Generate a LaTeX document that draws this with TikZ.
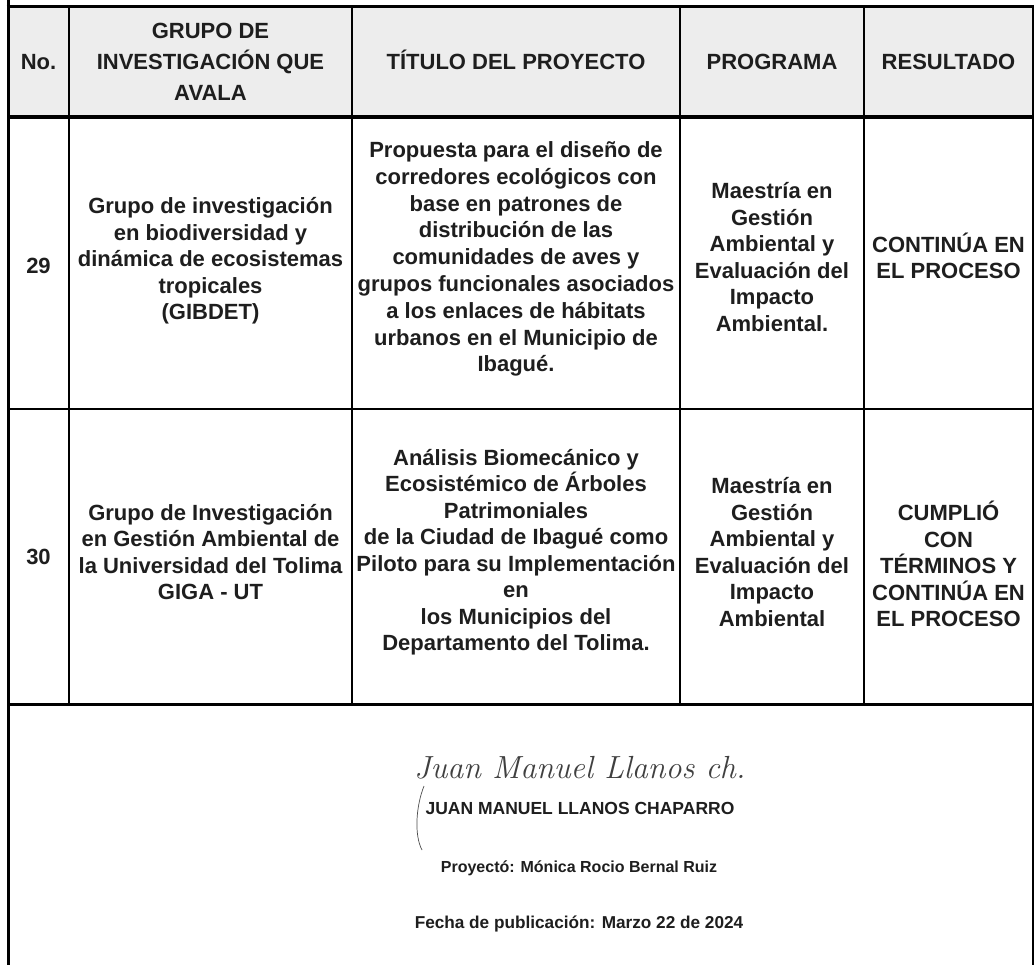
\documentclass[tikz,border=0pt]{standalone}
\usepackage{fontspec}
\setmainfont{Liberation Sans}
\newfontfamily\sigfont{Latin Modern Roman}
\definecolor{hdr}{HTML}{EDEDED}
\definecolor{ink}{HTML}{1E1E1E}
\begin{document}
\begin{tikzpicture}[x=1pt,y=-1pt,
  cell/.style={align=center,text=ink,font=\fontsize{22}{26.5}\selectfont\bfseries,inner sep=0pt},
  hcell/.style={cell,anchor=base},
  thick line/.style={line width=3pt,black},
  thin line/.style={line width=2pt,black}]
\useasboundingbox (0,0) rectangle (1035,965);
\fill[white] (0,0) rectangle (1035,965);
\fill[hdr] (8,7) rectangle (1033,117);
% grid
\draw[thin line] (69,7) -- (69,704);
\draw[thin line] (352,7) -- (352,704);
\draw[thin line] (680,7) -- (680,704);
\draw[thin line] (864,7) -- (864,704);
\draw[thin line] (8,409) -- (1033,409);
\draw[line width=3.5pt] (8,117) -- (1033,117);
\draw[thick line] (8,704) -- (1033,704);
\draw[thick line] (6.5,7) -- (1033,7);
\draw[line width=2.5pt] (1033,5.5) -- (1033,965);
\draw[thick line] (8,0) -- (8,965);
% header
\node[hcell] (h1) at (38.5,70) {No.};
\node[cell,font=\fontsize{22}{31}\selectfont\bfseries] (h2) at (210.5,62) {GRUPO DE\\INVESTIGACIÓN QUE\\AVALA};
\node[hcell] (h3) at (516,70) {TÍTULO DEL PROYECTO};
\node[hcell] (h4) at (772,70) {PROGRAMA};
\node[hcell] (h5) at (948.5,70) {RESULTADO};
% row 1
\node[cell] (a1) at (38.5,266) {29};
\node[cell] (a2) at (210.5,261) {Grupo de investigación\\en biodiversidad y\\dinámica de ecosistemas\\tropicales\\(GIBDET)};
\node[cell,font=\fontsize{22}{26.8}\selectfont\bfseries] (a3) at (516,259) {Propuesta para el diseño de\\corredores ecológicos con\\base en patrones de\\distribución de las\\comunidades de aves y\\grupos funcionales asociados\\a los enlaces de hábitats\\urbanos en el Municipio de\\Ibagué.};
\node[cell] (a4) at (772,257) {Maestría en\\Gestión\\Ambiental y\\Evaluación del\\Impacto\\Ambiental.};
\node[cell] (a5) at (948.5,256) {CONTINÚA EN\\EL PROCESO};
% row 2
\node[cell] (b1) at (38.5,557) {30};
\node[cell] (b2) at (210.5,552) {Grupo de Investigación\\en Gestión Ambiental de\\la Universidad del Tolima\\GIGA - UT};
\node[cell] (b3) at (516,552) {Análisis Biomecánico y\\Ecosistémico de Árboles\\Patrimoniales\\de la Ciudad de Ibagué como\\Piloto para su Implementación\\en\\los Municipios del\\Departamento del Tolima.};
\node[cell] (b4) at (772,552) {Maestría en\\Gestión\\Ambiental y\\Evaluación del\\Impacto\\Ambiental};
\node[cell] (b5) at (948.5,564) {CUMPLIÓ\\CON\\TÉRMINOS Y\\CONTINÚA EN\\EL PROCESO};
% signature block
\node[text=ink!85,font=\sigfont\itshape\fontsize{32}{32}\selectfont,inner sep=0pt,anchor=base west] (sig) at (414,778) {Juan Manuel Llanos ch.};
\draw[ink!80,line width=0.7pt] (424,786) .. controls (416,806) and (414,835) .. (422,850);
\node[cell,font=\fontsize{17.5}{20}\selectfont\bfseries] (name) at (580,808) {JUAN MANUEL LLANOS CHAPARRO};
\node[cell,font=\fontsize{16}{18}\selectfont\bfseries] (proj) at (579,868) {Proyectó: Mónica Rocio Bernal Ruiz};
\node[cell,font=\fontsize{17.2}{19}\selectfont\bfseries] (date) at (579,924) {Fecha de publicación: Marzo 22 de 2024};
\end{tikzpicture}
\end{document}
